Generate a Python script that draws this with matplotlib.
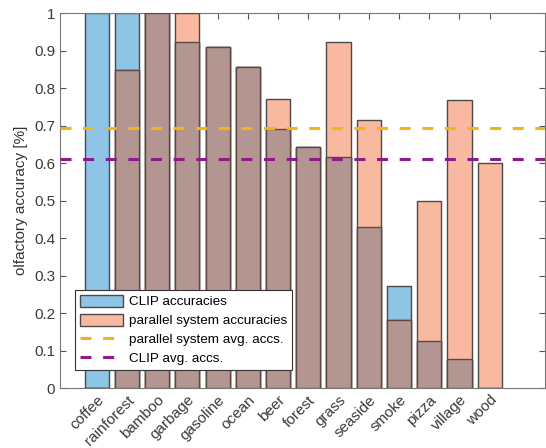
import matplotlib.pyplot as plt
import numpy as np

plt.rcParams['font.family'] = ['Liberation Sans', 'DejaVu Sans']

labels = ['coffee', 'rainforest', 'bamboo', 'garbage', 'gasoline', 'ocean', 'beer',
          'forest', 'grass', 'seaside', 'smoke', 'pizza', 'village', 'wood']
clip_acc = [1.0, 1.0, 1.0, 0.923, 0.909, 0.857, 0.692, 0.643, 0.615, 0.429, 0.273, 0.125, 0.077, 0.0]
par_acc = [0.0, 0.847, 1.0, 1.0, 0.909, 0.857, 0.77, 0.643, 0.923, 0.714, 0.182, 0.5, 0.769, 0.6]

clip_mean = np.mean(clip_acc)
par_mean = np.mean(par_acc)

x = np.arange(1, len(labels) + 1)
overlap = np.minimum(clip_acc, par_acc)

fig = plt.figure(figsize=(5.46, 4.48), dpi=100)
ax = fig.add_axes([60/546, 1-388/448, 485/546, 375/448])

edge = '#4a4a4a'
b1 = ax.bar(x, clip_acc, width=0.8, color='#8ec5e6', edgecolor=edge, linewidth=1, zorder=2,
            label='CLIP accuracies')
b2 = ax.bar(x, par_acc, width=0.8, color='#f9b9a0', edgecolor=edge, linewidth=1, zorder=3,
            label='parallel system accuracies')
ax.bar(x, overlap, width=0.8, color='#b39691', edgecolor='#5e4842', linewidth=1, zorder=4)
l1 = ax.axhline(par_mean, color='#f2b515', linewidth=2.2, dashes=(3.6, 3.8), zorder=5,
                label='parallel system avg. accs.')
l2 = ax.axhline(clip_mean, color='#8e1a8e', linewidth=2.2, dashes=(3.6, 3.8), zorder=5,
                label='CLIP avg. accs.')

ax.set_xlim(-0.214, 15.83)
ax.set_ylim(0, 1)
ax.set_yticks(np.arange(0, 1.01, 0.1))
ax.set_yticklabels(['0', '0.1', '0.2', '0.3', '0.4', '0.5', '0.6', '0.7', '0.8', '0.9', '1'])
ax.set_xticks(x)
ax.set_xticklabels(labels, rotation=45, ha='right', rotation_mode='anchor')
ax.tick_params(direction='in', length=4, color='#555555', labelcolor='#3a3a3a',
               labelsize=11, top=True, right=True, width=0.8)
for s in ax.spines.values():
    s.set_color('#777777')
    s.set_linewidth(0.8)
ax.set_ylabel('olfactory accuracy [%]', fontsize=11, color='#333333')

leg = ax.legend([b1, b2, l1, l2],
                ['CLIP accuracies', 'parallel system accuracies',
                 'parallel system avg. accs.', 'CLIP avg. accs.'],
                loc='lower left', bbox_to_anchor=(0.017, 0.03), fontsize=9.7,
                fancybox=False, framealpha=1, edgecolor='#333333',
                borderpad=0.35, labelspacing=0.4, handlelength=3.2, handleheight=1.0,
                handletextpad=0.45)
leg.get_frame().set_linewidth(0.8)
leg.set_zorder(10)

plt.savefig('out.png', dpi=100)
